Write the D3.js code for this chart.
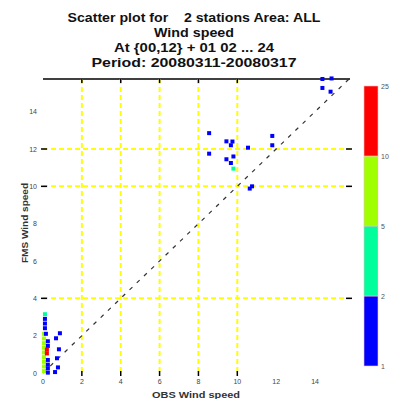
<!DOCTYPE html>
<html>
<head>
<meta charset="utf-8">
<script src="https://cdn.jsdelivr.net/npm/d3@7/dist/d3.min.js"></script>
<style>
  html, body { margin: 0; padding: 0; background: #fff; }
  svg { display: block; font-family: "Liberation Sans", Arial, sans-serif; }
  .title { white-space: pre; }
</style>
</head>
<body>
<div id="chart"></div>
<script>
// title lines
const titleLines = [
  "Scatter plot for    2 stations Area: ALL",
  "Wind speed",
  "At {00,12} + 01 02 ... 24",
  "Period: 20080311-20080317"
];
const titleWidths = [253, 80, 160, 205];

// observed / forecast wind speed pairs and how many fall in each spot
const obsSpeed = [0.05, 0.05, 0.05, 0.05, 0.05, 0.05, 0.05, 0.05, 0.05,
  0.25, 0.25, 0.25, 0.25, 0.25, 0.25, 0.2, 0.2,
  0.1, 0.1, 0.1, 0.1, 0.15,
  0.67, 0.87, 0.82, 0.77, 0.72, 0.62,
  8.55, 9.44, 9.67, 9.75, 8.55, 9.44, 9.67, 9.8, 9.8, 10.55, 11.8, 11.8, 10.64, 10.76,
  14.38, 14.85, 14.38, 14.8];
const fcSpeed = [0.1, 0.35, 0.6, 0.85, 1.1, 1.35, 1.6, 1.85, 2.1,
  0.02, 0.25, 0.45, 0.7, 1.45, 1.7, 1.05, 1.25,
  3.15, 2.9, 2.65, 2.4, 2.1,
  1.86, 2.13, 1.27, 0.3, 0.79, 0.05,
  12.85, 12.41, 12.2, 12.4, 11.75, 11.45, 11.25, 11.6, 10.95, 12.07, 12.7, 12.2, 9.88, 10.0,
  15.75, 15.78, 15.27, 15.07];
const pointCount = [6, 6, 6, 6, 6, 6, 6, 6, 6,
  1, 1, 1, 1, 1, 1, 12, 12,
  3, 1, 1, 1, 1,
  1, 1, 1, 1, 1, 1,
  1, 1, 1, 1, 1, 1, 1, 1, 3, 1, 1, 1, 1, 1,
  1, 1, 1, 1];

// colour bar
const countBreaks = [1, 2, 5, 10, 25];
const binColors = ["#0000ff", "#00ff9c", "#a0ff00", "#ff0000"];

// axes
const axisTicks = [0, 2, 4, 6, 8, 10, 12, 14];
const gridX = [2, 4, 6, 8, 10];
const gridY = [4, 10, 12];

const width = 393, height = 399;
const svg = d3.select("#chart").append("svg")
  .attr("width", width).attr("height", height);

const x = d3.scaleLinear().domain([0, 15.8]).range([43, 350]);
const y = d3.scaleLinear().domain([0, 15.75]).range([373, 79]);

// titles
svg.append("g").selectAll("text")
  .data(titleLines)
  .join("text")
    .attr("class", "title")
    .attr("x", 194)
    .attr("y", (d, i) => 22 + i * 15)
    .attr("text-anchor", "middle")
    .attr("textLength", (d, i) => titleWidths[i])
    .attr("lengthAdjust", "spacingAndGlyphs")
    .style("font-size", "13px")
    .style("font-weight", "bold")
    .attr("fill", "#111")
    .text(d => d);

// top frame line
svg.append("line")
  .attr("x1", x(0)).attr("x2", x.range()[1])
  .attr("y1", y.range()[1]).attr("y2", y.range()[1])
  .attr("stroke", "#000").attr("stroke-width", 1.5);

// yellow grid
const grid = svg.append("g").attr("stroke", "#ffff00")
  .attr("stroke-width", 2).attr("stroke-dasharray", "5,3");
grid.selectAll(".gx").data(gridX).join("line")
  .attr("class", "gx")
  .attr("x1", d => x(d)).attr("x2", d => x(d))
  .attr("y1", y.range()[1]).attr("y2", y(0));
grid.selectAll(".gy").data(gridY).join("line")
  .attr("class", "gy")
  .attr("y1", d => y(d)).attr("y2", d => y(d))
  .attr("x1", x(0)).attr("x2", x.range()[1]);

// tick marks on the grid positions, all four sides
const ticks = svg.append("g").attr("stroke", "#000").attr("stroke-width", 1.5);
gridX.forEach(v => {
  ticks.append("line").attr("x1", x(v)).attr("x2", x(v)).attr("y1", y.range()[1]).attr("y2", y.range()[1] + 4);
  ticks.append("line").attr("x1", x(v)).attr("x2", x(v)).attr("y1", y(0) - 2).attr("y2", y(0) + 3);
});
gridY.forEach(v => {
  ticks.append("line").attr("y1", y(v)).attr("y2", y(v)).attr("x1", x(0) - 2).attr("x2", x(0) + 4);
  ticks.append("line").attr("y1", y(v)).attr("y2", y(v)).attr("x1", x.range()[1] - 4).attr("x2", x.range()[1] + 2);
});

// tick labels
svg.append("g").selectAll("text").data(axisTicks).join("text")
  .attr("x", d => x(d)).attr("y", 384)
  .attr("text-anchor", "middle")
  .style("font-size", "7px").attr("fill", "#444")
  .text(d => d);
svg.append("g").selectAll("text").data(axisTicks).join("text")
  .attr("x", 37).attr("y", d => y(d) + 2.5)
  .attr("text-anchor", "end")
  .style("font-size", "7px").attr("fill", "#444")
  .text(d => d);

// axis titles
svg.append("text")
  .attr("x", 196).attr("y", 398)
  .attr("text-anchor", "middle")
  .attr("textLength", 88).attr("lengthAdjust", "spacingAndGlyphs")
  .style("font-size", "9px").style("font-weight", "bold").attr("fill", "#333")
  .text("OBS Wind speed");
svg.append("text")
  .attr("transform", "translate(28,223) rotate(-90)")
  .attr("text-anchor", "middle")
  .attr("textLength", 80).attr("lengthAdjust", "spacingAndGlyphs")
  .style("font-size", "9px").style("font-weight", "bold").attr("fill", "#333")
  .text("FMS Wind speed");

// diagonal 1:1 line
svg.append("line")
  .attr("x1", x(0)).attr("y1", y(0))
  .attr("x2", x(15.75)).attr("y2", y(15.75))
  .attr("stroke", "#333").attr("stroke-width", 1.2)
  .attr("stroke-dasharray", "4,6");

// points
const colorOf = d3.scaleThreshold().domain(countBreaks.slice(1, -1)).range(binColors);
const pts = d3.range(obsSpeed.length).map(i => ({ o: obsSpeed[i], f: fcSpeed[i], n: pointCount[i] }));
svg.append("g").selectAll("rect").data(pts).join("rect")
  .attr("x", d => x(d.o) - 2)
  .attr("y", d => y(d.f) - 2)
  .attr("width", 4).attr("height", 4)
  .attr("fill", d => colorOf(d.n));

// colour bar
const cb = d3.scaleBand().domain(d3.range(binColors.length).reverse()).range([86, 366]).padding(0);
svg.append("g").selectAll("rect").data(d3.range(binColors.length)).join("rect")
  .attr("x", 364).attr("y", d => cb(d))
  .attr("width", 14).attr("height", cb.bandwidth())
  .attr("fill", d => binColors[d])
  .attr("stroke", "#f4c0c0").attr("stroke-width", 0.6);
const cbLabelY = d3.scaleLinear().domain([0, countBreaks.length - 1]).range([366, 86]);
svg.append("g").selectAll("text").data(countBreaks).join("text")
  .attr("x", 381).attr("y", (d, i) => cbLabelY(i) + 3)
  .style("font-size", "7px").attr("fill", "#555")
  .text(d => d);
</script>
</body>
</html>
